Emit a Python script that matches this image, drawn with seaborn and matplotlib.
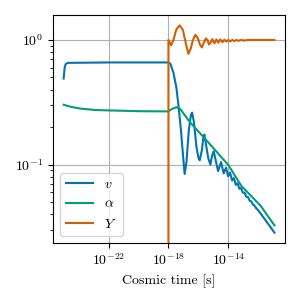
import matplotlib
matplotlib.use('Agg')
import matplotlib.pyplot as plt
from matplotlib.ticker import NullLocator
import seaborn as sns

# data (time in s)
t_v = [1.0e-25, 1.17e-25, 1.35e-25, 1.85e-25, 1e-22, 1e-18, 1.35e-18, 2.15e-18,
       3.4e-18, 4.6e-18, 6.8e-18, 9.3e-18, 1.2e-17, 1.6e-17, 2.3e-17, 3.16e-17,
       3.8e-17, 5.0e-17, 7.4e-17, 1.0e-16, 1.22e-16, 1.7e-16, 2.09e-16, 2.5e-16,
       3.4e-16, 4.6e-16, 6.3e-16, 8.2e-16, 1.05e-15, 2.06e-15, 3.26e-15, 4.86e-15,
       7.03e-15, 9.55e-15, 1.30e-14, 1.77e-14, 2.33e-14, 3.16e-14, 4.17e-14,
       5.41e-14, 7.13e-14, 9.27e-14, 1.20e-13, 1.585e-13, 2.06e-13, 2.63e-13,
       3.41e-13, 4.44e-13, 5.66e-13, 7.36e-13, 9.55e-13, 1.36e-12, 1.2e-11]
v = [0.49, 0.60, 0.64, 0.655, 0.66, 0.66, 0.645, 0.545,
     0.413, 0.302, 0.19, 0.12, 0.084, 0.105, 0.19, 0.249,
     0.261, 0.22, 0.139, 0.114, 0.108, 0.13, 0.161, 0.174,
     0.139, 0.112, 0.100, 0.118, 0.128, 0.0887, 0.1047, 0.0849,
     0.0945, 0.0806, 0.0863, 0.0746, 0.0778, 0.0687, 0.0706,
     0.0639, 0.0648, 0.0594, 0.0595, 0.0551, 0.0547, 0.0513,
     0.0506, 0.0477, 0.0467, 0.0444, 0.0431, 0.0408, 0.0284]

t_alpha = [1e-25, 2.9e-25, 1.35e-24, 1.35e-23, 1e-22, 1.35e-20, 1e-18, 1.58e-18,
           3.4e-18, 6.3e-18, 1.17e-17, 2.9e-17, 1.36e-16, 1e-15, 1e-14, 7.4e-14,
           1.36e-12, 1.2e-11]
alpha = [0.302, 0.291, 0.281, 0.274, 0.272, 0.268, 0.267, 0.278,
         0.289, 0.278, 0.251, 0.217, 0.177, 0.1355, 0.099, 0.0673,
         0.047, 0.0325]

t_Y = [1e-18, 1e-18, 1.51e-18, 2.15e-18, 3.4e-18, 5.6e-18, 9.3e-18, 1.47e-17,
       2.15e-17, 3.16e-17, 4.3e-17, 6.3e-17, 9.3e-17, 1.26e-16, 1.7e-16, 2.3e-16,
       3.16e-16, 4.0e-16, 5.1e-16, 6.8e-16, 8.6e-16, 1.17e-15, 1.6e-15, 2.15e-15,
       2.9e-15, 4.0e-15, 5.4e-15, 7.4e-15, 1.0e-14, 1.35e-14, 1.85e-14, 2.5e-14,
       3.4e-14, 4.6e-14, 7.4e-14, 1.17e-13, 2.15e-13, 1.2e-11]
Y = [0.0, 1.0, 0.907, 1.0, 1.22, 1.31, 1.20, 0.93,
     0.773, 0.86, 1.0, 1.10, 1.03, 0.92, 0.871, 0.95,
     1.03, 1.0, 0.92, 0.96, 1.015, 0.94, 1.01, 0.95,
     1.01, 0.96, 1.005, 0.97, 1.0, 0.975, 1.0, 0.98,
     1.0, 0.985, 1.0, 0.99, 1.0, 1.0]

plt.rcParams['font.family'] = 'serif'
plt.rcParams['font.serif'] = ['cmr10']
plt.rcParams['mathtext.fontset'] = 'cm'
plt.rcParams['axes.formatter.use_mathtext'] = True
plt.rcParams['font.size'] = 10

pal = sns.color_palette('colorblind')

fig = plt.figure(figsize=(3, 3), dpi=100)
ax = fig.add_axes([0.177, 0.19, 0.773, 0.76])

sns.lineplot(x=t_v, y=v, ax=ax, color=pal[0], label=r'$v$', estimator=None, sort=False, lw=1.5)
sns.lineplot(x=t_alpha, y=alpha, ax=ax, color=pal[2], label=r'$\alpha$', estimator=None, sort=False, lw=1.5)
sns.lineplot(x=t_Y, y=Y, ax=ax, color=pal[3], label=r'$Y$', estimator=None, sort=False, lw=1.5)

ax.set_xscale('log')
ax.set_yscale('log')
ax.set_xticks([1e-22, 1e-18, 1e-14])
ax.xaxis.set_minor_locator(NullLocator())
ax.grid(True, which='major', color='#b0b0b0', lw=0.8)
ax.set_axisbelow(True)
ax.set_xlabel('Cosmic time [s]')
ax.legend(loc='lower left')

fig.savefig('out.png', dpi=100)
plt.close()
